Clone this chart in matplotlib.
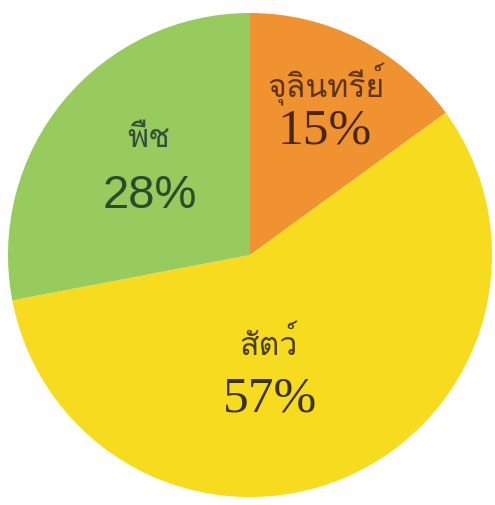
import matplotlib
matplotlib.use("Agg")
import matplotlib.pyplot as plt
from matplotlib import font_manager
from matplotlib.ft2font import FT2Font

# --- Data ---
labels = ["จุลินทรีย์", "สัตว์", "พืช"]
shares = [15, 57, 28]
colors = ["#F0922F", "#F7DB1F", "#97CB5E"]
text_colors = ["#4A2712", "#3B3316", "#2C4A2C"]
label_colors = ["#5E3418", "#4A4018", "#34503A"]
pct_fonts = ["Liberation Serif", "Liberation Serif", "Liberation Sans"]
pct_sizes = [37, 37, 34]

W, H = 495, 506


def find_thai_family(default: str = "DejaVu Sans") -> str:
    # pick an installed font that actually has Thai glyphs, regular weight first
    found = []
    for entry in font_manager.fontManager.ttflist:
        try:
            font = FT2Font(entry.fname)
            if font.get_char_index(ord("จ")) and font.get_char_index(ord("ี")):
                found.append(entry)
        except Exception:
            continue
    if not found:
        return default
    found.sort(key=lambda e: abs(int(e.weight) - 400) if str(e.weight).isdigit() else 999)
    return found[0].name


THAI = find_thai_family()

fig = plt.figure(figsize=(W / 100, H / 100), dpi=100)
ax = fig.add_axes([0, 0, 1, 1])

# pie drawn in a flipped y axis, so direction is reversed
ax.pie(
    shares,
    colors=colors,
    startangle=-90,
    counterclock=True,
    center=(250, 256),
    radius=242,
    frame=True,
)
ax.set_xlim(0, W)
ax.set_ylim(H, 0)
ax.set_aspect("equal")
ax.axis("off")

label_pos = [(326, 84), (268, 345), (149, 139)]
pct_pos = [(325, 131), (270, 399), (150, 196)]

for i, lab in enumerate(labels):
    ax.text(*label_pos[i], lab, ha="center", va="center", fontsize=23,
            fontweight="normal", color=label_colors[i], family=[THAI, "DejaVu Sans"])
    ax.text(*pct_pos[i], f"{shares[i]}%", ha="center", va="center", fontsize=pct_sizes[i],
            color=text_colors[i], family=pct_fonts[i])

fig.savefig("out.png", dpi=100)
plt.close(fig)
